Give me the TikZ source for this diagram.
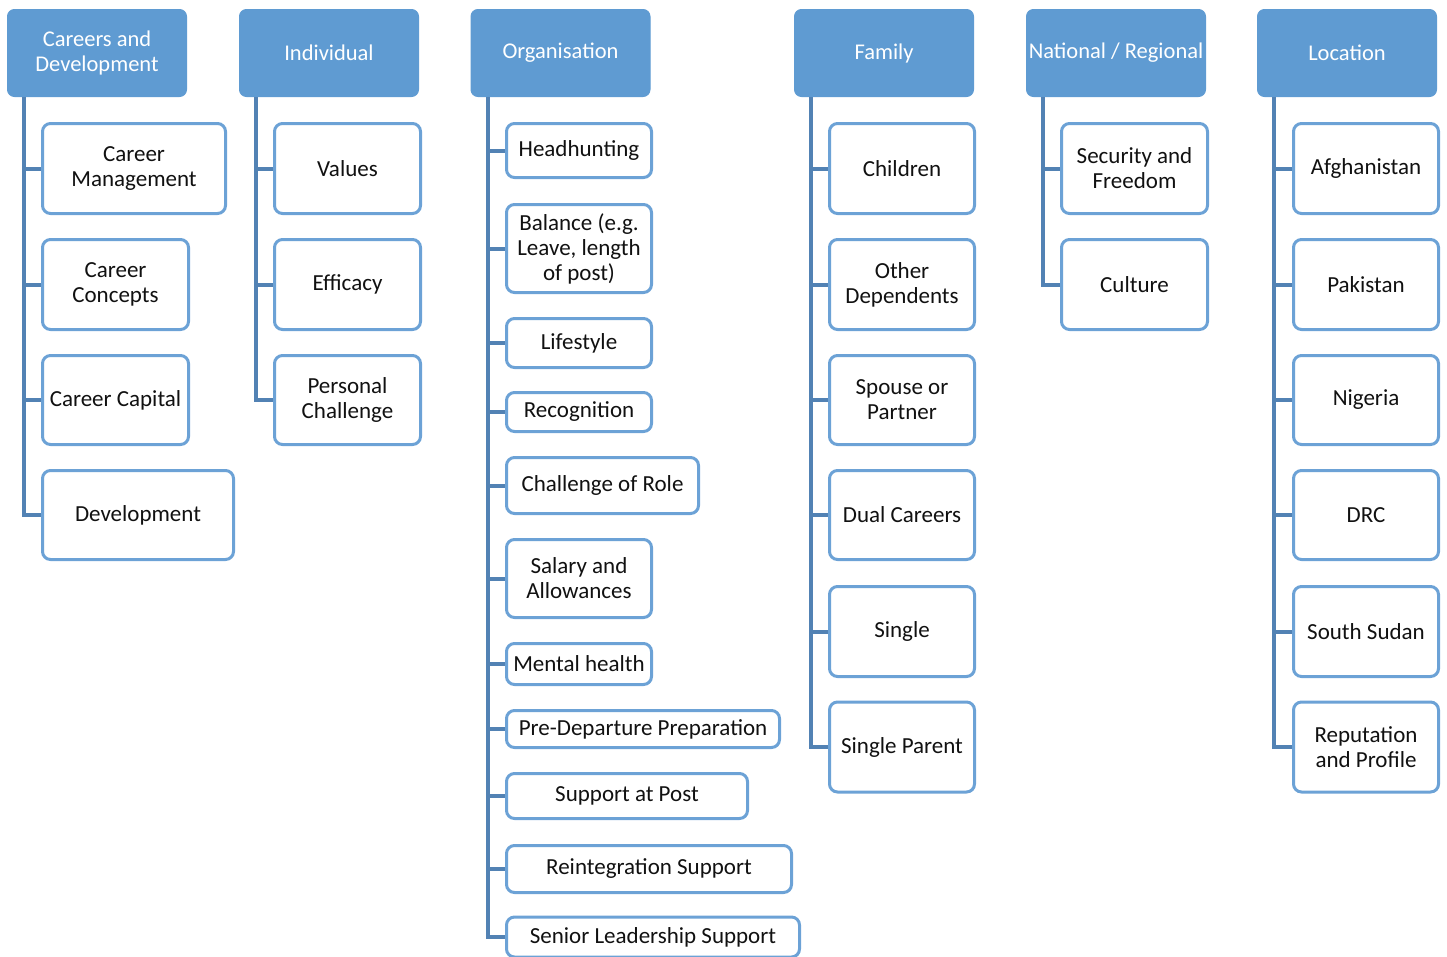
\documentclass[tikz,border=0pt]{standalone}
\usepackage{fontspec}
\setmainfont{Carlito}
\definecolor{hdrfill}{HTML}{5F9BD2}
\definecolor{boxline}{HTML}{6CA2D6}
\definecolor{connline}{HTML}{5282B4}
\definecolor{txt}{HTML}{111111}
\tikzset{
  hdr/.style={fill=hdrfill, draw=hdrfill, line width=1pt, rounded corners=7pt, text=white,
    align=center, inner sep=2pt, font=\fontsize{22.5}{25}\selectfont},
  kid/.style={fill=white, draw=boxline, line width=3pt, rounded corners=8pt, text=txt,
    align=center, inner sep=2pt, font=\fontsize{23}{25}\selectfont},
  conn/.style={draw=connline, line width=4pt}
}
\begin{document}
\begin{tikzpicture}[x=1pt,y=-1pt]
\useasboundingbox (0,0) rectangle (1447,956);
\clip (0,0) rectangle (1447,956);
% headers
\node[hdr, minimum width=179pt, minimum height=87pt] (h1) at (97,53) {Careers and\\Development};
\node[hdr, minimum width=179pt, minimum height=87pt] (h2) at (329,53) {Individual};
\node[hdr, minimum width=179pt, minimum height=87pt] (h3) at (560.5,53) {Organisation};
\node[hdr, minimum width=179pt, minimum height=87pt] (h4) at (884,53) {Family};
\node[hdr, minimum width=179pt, minimum height=87pt] (h5) at (1116,53) {National / Regional};
\node[hdr, minimum width=179pt, minimum height=87pt] (h6) at (1347,53) {Location};
% careers
\node[kid, minimum width=183pt, minimum height=90pt] (a1) at (134,168.5) {Career\\Management};
\node[kid, minimum width=146pt, minimum height=90pt] (a2) at (115.5,284.5) {Career\\Concepts};
\node[kid, minimum width=146pt, minimum height=89pt] (a3) at (115.5,400) {Career Capital};
\node[kid, minimum width=191pt, minimum height=89pt] (a4) at (138,515) {Development};
% individual
\node[kid, minimum width=146pt, minimum height=90pt] (b1) at (347.5,168.5) {Values};
\node[kid, minimum width=146pt, minimum height=90pt] (b2) at (347.5,284.5) {Efficacy};
\node[kid, minimum width=146pt, minimum height=89pt] (b3) at (347.5,400) {Personal\\Challenge};
% organisation
\node[kid, minimum width=145pt, minimum height=54pt] (c1) at (579,150.5) {Headhunting};
\node[kid, minimum width=145pt, minimum height=88pt] (c2) at (579,248.5) {Balance (e.g.\\Leave, length\\of post)};
\node[kid, minimum width=145pt, minimum height=49pt] (c3) at (579,343) {Lifestyle};
\node[kid, minimum width=145pt, minimum height=39pt] (c4) at (579,412) {Recognition};
\node[kid, minimum width=192pt, minimum height=56pt] (c5) at (602.5,485.5) {Challenge of Role};
\node[kid, minimum width=145pt, minimum height=78pt] (c6) at (579,578.5) {Salary and\\Allowances};
\node[kid, minimum width=145pt, minimum height=41pt] (c7) at (579,664) {Mental health};
\node[kid, minimum width=273pt, minimum height=37pt] (c8) at (643,729) {Pre-Departure Preparation};
\node[kid, minimum width=241pt, minimum height=45pt] (c9) at (627,796) {Support at Post};
\node[kid, minimum width=285pt, minimum height=47pt] (c10) at (649,869) {Reintegration Support};
\node[kid, minimum width=293pt, minimum height=40pt] (c11) at (653,937) {Senior Leadership Support};
% family
\node[kid, minimum width=145pt, minimum height=90pt] (d1) at (902,168.5) {Children};
\node[kid, minimum width=145pt, minimum height=90pt] (d2) at (902,284.5) {Other\\Dependents};
\node[kid, minimum width=145pt, minimum height=89pt] (d3) at (902,400) {Spouse or\\Partner};
\node[kid, minimum width=145pt, minimum height=89pt] (d4) at (902,515) {Dual Careers};
\node[kid, minimum width=145pt, minimum height=90pt] (d5) at (902,631.5) {Single};
\node[kid, minimum width=145pt, minimum height=90pt] (d6) at (902,747) {Single Parent};
% national
\node[kid, minimum width=146pt, minimum height=90pt] (e1) at (1134.5,168.5) {Security and\\Freedom};
\node[kid, minimum width=146pt, minimum height=90pt] (e2) at (1134.5,284.5) {Culture};
% location
\node[kid, minimum width=145pt, minimum height=90pt] (f1) at (1366,168.5) {Afghanistan};
\node[kid, minimum width=145pt, minimum height=90pt] (f2) at (1366,284.5) {Pakistan};
\node[kid, minimum width=145pt, minimum height=89pt] (f3) at (1366,400) {Nigeria};
\node[kid, minimum width=145pt, minimum height=89pt] (f4) at (1366,515) {DRC};
\node[kid, minimum width=145pt, minimum height=90pt] (f5) at (1366,631.5) {South Sudan};
\node[kid, minimum width=145pt, minimum height=90pt] (f6) at (1366,747) {Reputation\\and Profile};
% connectors
\foreach \c in {a1,a2,a3,a4} \draw[conn] ([xshift=16.5pt]h1.south west) |- (\c.west);
\foreach \c in {b1,b2,b3} \draw[conn] ([xshift=16.5pt]h2.south west) |- (\c.west);
\foreach \c in {c1,c2,c3,c4,c5,c6,c7,c8,c9,c10,c11} \draw[conn] ([xshift=17pt]h3.south west) |- (\c.west);
\foreach \c in {d1,d2,d3,d4,d5,d6} \draw[conn] ([xshift=16.5pt]h4.south west) |- (\c.west);
\foreach \c in {e1,e2} \draw[conn] ([xshift=16.5pt]h5.south west) |- (\c.west);
\foreach \c in {f1,f2,f3,f4,f5,f6} \draw[conn] ([xshift=16.5pt]h6.south west) |- (\c.west);
\end{tikzpicture}
\end{document}
